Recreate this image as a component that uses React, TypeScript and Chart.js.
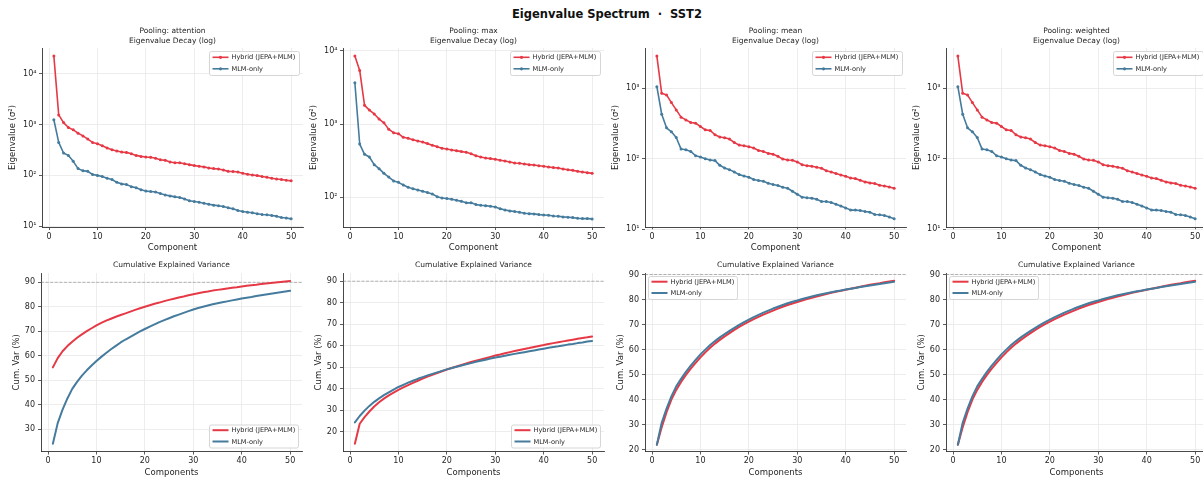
import React, { useEffect, useRef } from "react";
import { Chart, registerables } from "chart.js";

Chart.register(...registerables);

// ---------------- DATA ----------------
const components = [
  1, 2, 3, 4, 5, 6, 7, 8, 9, 10, 11, 12, 13, 14, 15, 16, 17, 18, 19, 20,
  21, 22, 23, 24, 25, 26, 27, 28, 29, 30, 31, 32, 33, 34, 35, 36, 37, 38, 39, 40,
  41, 42, 43, 44, 45, 46, 47, 48, 49, 50,
];

const seriesNames = ["Hybrid (JEPA+MLM)", "MLM-only"];
const xTickValues = [0, 10, 20, 30, 40, 50];
const logTickValues = [10, 100, 1000, 10000];
const cumTicksAttention = [30, 40, 50, 60, 70, 80, 90];
const cumTicksOther = [20, 30, 40, 50, 60, 70, 80, 90];
const varianceThreshold = 90;

// Eigenvalues (log-scale panels)
const attentionHybridEig = [
  22500, 1560, 1100, 880, 790, 680, 600, 520, 447, 420,
  385, 346, 320, 302, 288, 284, 268, 248, 237, 230,
  227, 217, 204, 198, 184, 178, 178, 170, 163, 156,
  151, 147, 140, 136, 134, 128, 120, 119, 117, 110,
  105, 102, 99, 95, 92, 88, 85, 83, 80, 78,
];
const attentionMlmEig = [
  1250, 447, 276, 248, 189, 136, 124, 120, 104, 100,
  95, 88, 83, 73, 68, 66, 60, 57, 52, 49,
  48, 47, 44, 41, 39.4, 37.7, 36.6, 34.4, 31.5, 30.5,
  29.6, 28.3, 27, 25.9, 25.1, 24.3, 22.9, 21.9, 20.3, 19.4,
  18.8, 18.3, 17.5, 16.9, 16.7, 16.2, 15.7, 14.8, 14.4, 13.9,
];
const maxHybridEig = [
  8450, 5390, 1800, 1550, 1370, 1170, 1040, 845, 762, 738,
  658, 638, 611, 586, 569, 540, 512, 491, 466, 456,
  442, 433, 420, 411, 394, 370, 355, 344, 337, 330,
  320, 313, 303, 294, 291, 285, 279, 276, 270, 265,
  259, 254, 251, 243, 238, 233, 226, 221, 217, 212,
];
const maxMlmEig = [
  3660, 533, 386, 355, 279, 246, 212, 189, 167, 160,
  147, 137, 131, 126, 121, 116, 111, 102, 98, 96,
  94, 91, 88, 84, 84, 79.4, 77.8, 76.9, 75.4, 73.8,
  70, 67.2, 65.2, 63.8, 62.4, 60.5, 59.8, 59.3, 58, 57.4,
  56.8, 55.6, 55.1, 54, 53.4, 52.8, 51.8, 51.2, 51.2, 50.7,
];
const meanHybridEig = [
  2870, 849, 805, 627, 493, 389, 356, 327, 320, 287,
  257, 252, 219, 203, 198, 190, 170, 156, 153, 148,
  142, 131, 127, 119, 116, 108, 99, 96, 95, 90,
  82, 79.6, 77.9, 75.4, 73, 67.6, 64.7, 61.4, 58.8, 56.2,
  53.2, 52.1, 49.3, 46.8, 45.3, 44.3, 42, 41, 39.7, 38,
];
const meanMlmEig = [
  1056, 428, 275, 241, 200, 137, 134, 127, 110, 106,
  100, 96, 94, 80.5, 73.8, 69.9, 64.7, 59.4, 56.9, 54.5,
  50.5, 48.9, 47.8, 44.8, 42.9, 41.5, 39.3, 38, 34.5, 31.3,
  28.4, 27.8, 27.5, 26.6, 24.7, 24.7, 23.8, 22.6, 21.2, 20,
  18.6, 18.6, 18.4, 17.8, 17.4, 16.1, 16, 15.6, 14.8, 14,
];
const weightedHybridEig = meanHybridEig;
const weightedMlmEig = meanMlmEig;

// Cumulative explained variance (%)
const attentionHybridCum = [
  55.2, 59.0, 61.8, 63.9, 65.7, 67.3, 68.7, 70.0, 71.2, 72.4,
  73.4, 74.3, 75.1, 75.9, 76.6, 77.3, 78.0, 78.7, 79.4, 80.0,
  80.6, 81.2, 81.7, 82.3, 82.8, 83.3, 83.8, 84.2, 84.7, 85.1,
  85.5, 85.9, 86.2, 86.6, 86.9, 87.2, 87.5, 87.8, 88.0, 88.3,
  88.6, 88.8, 89.0, 89.3, 89.5, 89.7, 89.9, 90.1, 90.3, 90.5,
];
const attentionMlmCum = [
  24.0, 32.4, 37.9, 42.5, 46.4, 49.3, 51.8, 54.0, 56.0, 57.8,
  59.5, 61.1, 62.6, 64.0, 65.4, 66.6, 67.7, 68.8, 69.9, 70.9,
  71.9, 72.8, 73.7, 74.5, 75.3, 76.1, 76.8, 77.5, 78.2, 78.9,
  79.5, 80.0, 80.5, 81.0, 81.4, 81.8, 82.2, 82.6, 83.0, 83.4,
  83.7, 84.0, 84.4, 84.7, 85.0, 85.3, 85.6, 85.9, 86.2, 86.5,
];
const maxHybridCum = [
  14.4, 23.7, 26.8, 29.4, 31.7, 33.7, 35.4, 36.9, 38.2, 39.5,
  40.6, 41.7, 42.7, 43.7, 44.7, 45.6, 46.5, 47.3, 48.1, 48.9,
  49.6, 50.3, 51.0, 51.7, 52.4, 53.0, 53.6, 54.2, 54.8, 55.4,
  55.9, 56.5, 57.0, 57.5, 58.0, 58.5, 58.9, 59.4, 59.9, 60.3,
  60.8, 61.2, 61.6, 62.0, 62.4, 62.8, 63.2, 63.6, 63.9, 64.3,
];
const maxMlmCum = [
  24.3, 27.3, 29.8, 32.0, 33.9, 35.5, 37.0, 38.3, 39.6, 40.8,
  41.8, 42.8, 43.7, 44.6, 45.4, 46.2, 46.9, 47.6, 48.3, 49.0,
  49.6, 50.2, 50.8, 51.4, 51.9, 52.5, 53.0, 53.5, 54.0, 54.5,
  54.9, 55.3, 55.8, 56.2, 56.6, 57.0, 57.4, 57.8, 58.2, 58.6,
  59.0, 59.4, 59.7, 60.1, 60.5, 60.8, 61.2, 61.5, 61.9, 62.2,
];
const meanHybridCum = [
  22.0, 29.0, 35.0, 40.0, 43.9, 47.1, 49.9, 52.4, 54.7, 56.9,
  58.9, 60.7, 62.4, 63.9, 65.3, 66.6, 67.9, 69.1, 70.2, 71.2,
  72.2, 73.1, 74.0, 74.8, 75.6, 76.4, 77.1, 77.8, 78.4, 79.0,
  79.6, 80.2, 80.7, 81.2, 81.7, 82.2, 82.7, 83.1, 83.5, 83.9,
  84.3, 84.7, 85.1, 85.5, 85.9, 86.2, 86.5, 86.9, 87.2, 87.5,
];
const meanMlmCum = [
  22.0, 30.8, 36.4, 41.3, 45.3, 48.3, 51.1, 53.6, 55.9, 58.1,
  60.0, 61.8, 63.4, 64.9, 66.2, 67.5, 68.7, 69.9, 71.0, 72.0,
  73.0, 73.9, 74.8, 75.6, 76.4, 77.1, 77.8, 78.5, 79.1, 79.6,
  80.2, 80.7, 81.2, 81.7, 82.1, 82.5, 82.9, 83.3, 83.6, 84.0,
  84.3, 84.6, 85.0, 85.3, 85.6, 85.9, 86.2, 86.5, 86.8, 87.1,
];
const weightedHybridCum = meanHybridCum;
const weightedMlmCum = meanMlmCum;

// ---------------- STYLE / LAYOUT ----------------
const FONT = "'DejaVu Sans', 'Liberation Sans', sans-serif";
const RED = "#e63946";
const BLUE = "#457b9d";
const GRID = "#e8e8e8";
const AXIS = "#333333";
const TEXT = "#262626";

const Y_AXIS_W = 42;
const PLOT_W = 261;
const PAD_RIGHT = 10;
const CELL_W = Y_AXIS_W + PLOT_W + PAD_RIGHT;

type Row = { cellTop: number; cellH: number; padTop: number; plotH: number; xH: number; yTitlePad: number };
const TOP_ROW: Row = { cellTop: 20, cellH: 240, padTop: 28, plotH: 179, xH: 26, yTitlePad: 8 };
const BOT_ROW: Row = { cellTop: 258, cellH: 220, padTop: 15, plotH: 178.5, xH: 26.5, yTitlePad: 12.4 };

type Panel = {
  key: string;
  kind: "eig" | "cum";
  plotLeft: number;
  titles: string[];
  hybrid: number[];
  mlm: number[];
  yMin: number;
  yMax: number;
  yTicks: number[];
  legendPos: "ur" | "lr" | "ul";
};

const panels: Panel[] = [
  { key: "a1", kind: "eig", plotLeft: 42, titles: ["Pooling: attention", "Eigenvalue Decay (log)"], hybrid: attentionHybridEig, mlm: attentionMlmEig, yMin: 9.6, yMax: 32500, yTicks: logTickValues, legendPos: "ur" },
  { key: "a2", kind: "eig", plotLeft: 343, titles: ["Pooling: max", "Eigenvalue Decay (log)"], hybrid: maxHybridEig, mlm: maxMlmEig, yMin: 39.3, yMax: 10900, yTicks: logTickValues, legendPos: "ur" },
  { key: "a3", kind: "eig", plotLeft: 645, titles: ["Pooling: mean", "Eigenvalue Decay (log)"], hybrid: meanHybridEig, mlm: meanMlmEig, yMin: 10.7, yMax: 3740, yTicks: logTickValues, legendPos: "ur" },
  { key: "a4", kind: "eig", plotLeft: 946, titles: ["Pooling: weighted", "Eigenvalue Decay (log)"], hybrid: weightedHybridEig, mlm: weightedMlmEig, yMin: 10.7, yMax: 3740, yTicks: logTickValues, legendPos: "ur" },
  { key: "b1", kind: "cum", plotLeft: 41, titles: ["Cumulative Explained Variance"], hybrid: attentionHybridCum, mlm: attentionMlmCum, yMin: 20.8, yMax: 93.8, yTicks: cumTicksAttention, legendPos: "lr" },
  { key: "b2", kind: "cum", plotLeft: 343, titles: ["Cumulative Explained Variance"], hybrid: maxHybridCum, mlm: maxMlmCum, yMin: 10.8, yMax: 93.8, yTicks: cumTicksOther, legendPos: "lr" },
  { key: "b3", kind: "cum", plotLeft: 645, titles: ["Cumulative Explained Variance"], hybrid: meanHybridCum, mlm: meanMlmCum, yMin: 19.3, yMax: 90.6, yTicks: cumTicksOther, legendPos: "ul" },
  { key: "b4", kind: "cum", plotLeft: 946, titles: ["Cumulative Explained Variance"], hybrid: weightedHybridCum, mlm: weightedMlmCum, yMin: 19.3, yMax: 90.6, yTicks: cumTicksOther, legendPos: "ul" },
];

const SUP: Record<number, string> = { 0: "⁰", 1: "¹", 2: "²", 3: "³", 4: "⁴", 5: "⁵" };

function toPoints(values: number[]) {
  return components.map((c, i) => ({ x: c, y: values[i] }));
}

function drawLegend(chart: any, p: Panel) {
  const ctx: CanvasRenderingContext2D = chart.ctx;
  const a = chart.chartArea;
  const withMarker = p.kind === "eig";
  const w = withMarker ? 90 : 89;
  const h = withMarker ? 24 : 23;
  const pad = 3.5;
  const x = p.legendPos === "ul" ? a.left + pad : a.right - pad - w;
  const y = p.legendPos === "lr" ? a.bottom - pad - h : a.top + pad;
  ctx.save();
  ctx.beginPath();
  if ((ctx as any).roundRect) (ctx as any).roundRect(x, y, w, h, 2);
  else ctx.rect(x, y, w, h);
  ctx.fillStyle = "rgba(255,255,255,0.85)";
  ctx.fill();
  ctx.lineWidth = 0.8;
  ctx.strokeStyle = "#cccccc";
  ctx.stroke();
  const colors = [RED, BLUE];
  const rowY = withMarker ? [y + 5.8, y + 17.3] : [y + 5.2, y + 16.5];
  ctx.font = `6.6px ${FONT}`;
  ctx.textBaseline = "middle";
  ctx.textAlign = "left";
  seriesNames.forEach((name, i) => {
    const ry = rowY[i];
    ctx.strokeStyle = colors[i];
    ctx.lineWidth = withMarker ? 1.6 : 2;
    ctx.beginPath();
    ctx.moveTo(x + 3, ry);
    ctx.lineTo(x + 19, ry);
    ctx.stroke();
    if (withMarker) {
      ctx.fillStyle = colors[i];
      ctx.beginPath();
      ctx.arc(x + 11, ry, 1.6, 0, Math.PI * 2);
      ctx.fill();
    }
    ctx.fillStyle = TEXT;
    ctx.fillText(name, x + 22, ry + 0.3);
  });
  ctx.restore();
}

function makeDecor(p: Panel) {
  return {
    id: "decor-" + p.key,
    beforeDatasetsDraw(chart: any) {
      if (p.kind !== "cum") return;
      const ctx: CanvasRenderingContext2D = chart.ctx;
      const a = chart.chartArea;
      const yPix = chart.scales.y.getPixelForValue(varianceThreshold);
      ctx.save();
      ctx.beginPath();
      ctx.rect(a.left, a.top - 1, a.right - a.left, a.bottom - a.top + 2);
      ctx.clip();
      ctx.strokeStyle = "rgba(120,120,120,0.65)";
      ctx.lineWidth = 0.8;
      ctx.setLineDash([3, 1.6]);
      ctx.beginPath();
      ctx.moveTo(a.left, yPix);
      ctx.lineTo(a.right, yPix);
      ctx.stroke();
      ctx.restore();
    },
    afterDraw(chart: any) {
      const ctx: CanvasRenderingContext2D = chart.ctx;
      const a = chart.chartArea;
      const cx = (a.left + a.right) / 2;
      ctx.save();
      ctx.font = `7.5px ${FONT}`;
      ctx.fillStyle = TEXT;
      ctx.textAlign = "center";
      ctx.textBaseline = "middle";
      if (p.titles.length === 2) {
        ctx.fillText(p.titles[0], cx, a.top - 16.5);
        ctx.fillText(p.titles[1], cx, a.top - 7.4);
      } else {
        ctx.fillText(p.titles[0], cx, a.top - 7.8);
      }
      ctx.restore();
      drawLegend(chart, p);
    },
  };
}

function PanelChart({ p }: { p: Panel }) {
  const ref = useRef<HTMLCanvasElement | null>(null);
  const row = p.kind === "eig" ? TOP_ROW : BOT_ROW;
  useEffect(() => {
    if (!ref.current) return;
    const isLog = p.kind === "eig";
    const padBottom = row.cellH - row.padTop - row.plotH - row.xH;
    const chart = new Chart(ref.current, {
      type: "line",
      data: {
        datasets: [
          {
            label: seriesNames[0],
            data: toPoints(p.hybrid),
            borderColor: RED,
            backgroundColor: RED,
            borderWidth: isLog ? 1.6 : 2,
            pointRadius: isLog ? 1.5 : 0,
            pointBorderWidth: 0,
            pointBackgroundColor: RED,
            tension: 0,
            order: 1,
          },
          {
            label: seriesNames[1],
            data: toPoints(p.mlm),
            borderColor: BLUE,
            backgroundColor: BLUE,
            borderWidth: isLog ? 1.6 : 2,
            pointRadius: isLog ? 1.5 : 0,
            pointBorderWidth: 0,
            pointBackgroundColor: BLUE,
            tension: 0,
            order: 0,
          },
        ],
      },
      options: {
        responsive: false,
        animation: false,
        devicePixelRatio: 1,
        layout: { padding: { left: 0, top: row.padTop, right: PAD_RIGHT, bottom: padBottom } },
        plugins: {
          legend: { display: false },
          tooltip: { enabled: false },
          title: { display: false },
        },
        elements: { line: { borderJoinStyle: "round", borderCapStyle: "round" } },
        scales: {
          x: {
            type: "linear",
            position: "bottom",
            min: -1.45,
            max: 52.45,
            afterBuildTicks: (s: any) => {
              s.ticks = xTickValues.map((v) => ({ value: v }));
            },
            afterFit: (s: any) => {
              s.height = row.xH;
            },
            ticks: {
              autoSkip: false,
              maxRotation: 0,
              padding: 2,
              color: TEXT,
              font: { family: FONT, size: 8 },
              callback: (v: any) => String(v),
            },
            grid: { color: GRID, lineWidth: 0.8, tickColor: AXIS, tickLength: 3, drawTicks: true },
            border: { display: true, color: AXIS, width: 0.9 },
            title: {
              display: true,
              text: isLog ? "Component" : "Components",
              color: TEXT,
              font: { family: FONT, size: 8.5 },
              padding: { top: 0, bottom: 0 },
            },
          },
          y: {
            type: isLog ? "logarithmic" : "linear",
            position: "left",
            min: p.yMin,
            max: p.yMax,
            afterBuildTicks: (s: any) => {
              s.ticks = p.yTicks.map((v) => ({ value: v }));
            },
            afterFit: (s: any) => {
              s.width = Y_AXIS_W;
            },
            ticks: {
              autoSkip: false,
              padding: isLog ? 2.5 : 3,
              color: TEXT,
              font: { family: FONT, size: 8 },
              callback: (v: any) => {
                const n = Number(v);
                if (isLog) return "10" + SUP[Math.round(Math.log10(n))];
                return String(n);
              },
            },
            grid: { color: GRID, lineWidth: 0.8, tickColor: AXIS, tickLength: 3, drawTicks: true },
            border: { display: true, color: AXIS, width: 0.9 },
            title: {
              display: true,
              text: isLog ? "Eigenvalue (σ²)" : "Cum. Var (%)",
              color: TEXT,
              font: { family: FONT, size: 8.5 },
              padding: { top: row.yTitlePad, bottom: 0 },
            },
          },
        },
      } as any,
      plugins: [makeDecor(p)],
    });
    return () => chart.destroy();
  }, [p]);
  return (
    <canvas
      ref={ref}
      width={CELL_W}
      height={row.cellH}
      style={{ position: "absolute", left: p.plotLeft - Y_AXIS_W, top: row.cellTop, width: CELL_W, height: row.cellH }}
    />
  );
}

export default function App() {
  return (
    <div
      style={{
        position: "fixed",
        left: 0,
        top: 0,
        width: 1203,
        height: 478,
        overflow: "hidden",
        background: "#ffffff",
      }}
    >
      <div
        style={{
          position: "absolute",
          left: 0,
          top: 7,
          width: 1214,
          textAlign: "center",
          font: `bold 11.5px ${FONT}`,
          lineHeight: "14px",
          color: "#111111",
          whiteSpace: "pre",
        }}
      >
        {"Eigenvalue Spectrum  ·  SST2"}
      </div>
      {panels.map((p) => (
        <PanelChart key={p.key} p={p} />
      ))}
    </div>
  );
}
